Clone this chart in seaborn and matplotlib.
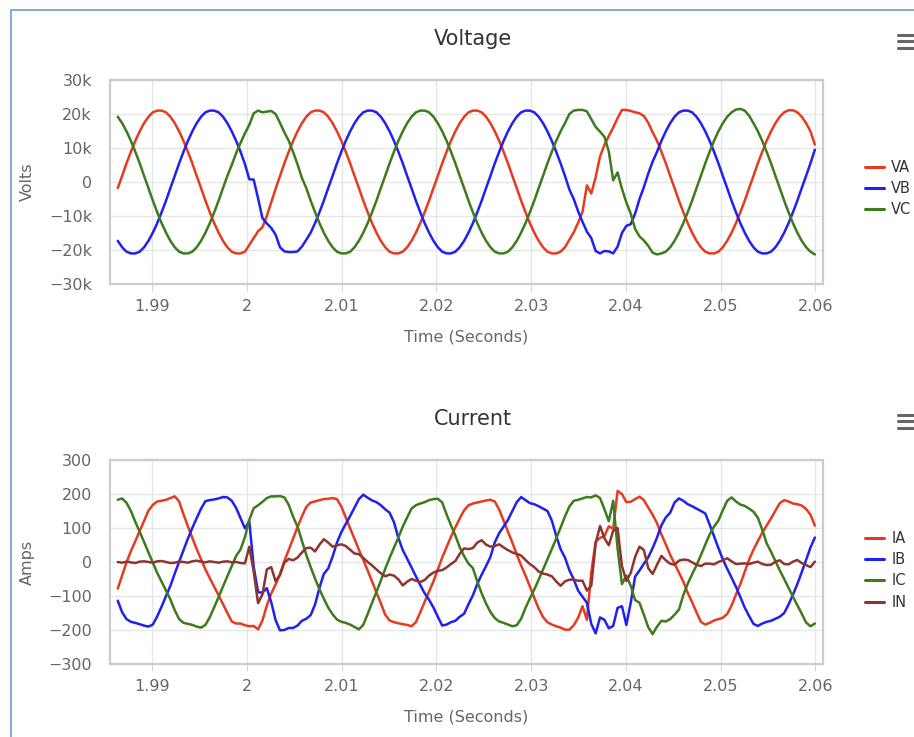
import numpy as np
import pandas as pd
import matplotlib
matplotlib.use("Agg")
import matplotlib.pyplot as plt
from matplotlib.lines import Line2D
import seaborn as sns

# ---------------- data ----------------
# recorder sampling grid
T_START = 1.98635
T_STEP = 1 / 2160

# phase voltages in kV
va_kv = [
    -1.8, 1.8, 5.5, 8.9, 12.1, 14.9, 17.3, 19.2, 20.5, 21.0,
    21.0, 20.5, 19.2, 17.3, 14.9, 12.1, 8.9, 5.5, 1.8, -1.8,
    -5.5, -8.9, -12.1, -14.9, -17.3, -19.2, -20.5, -21.0, -21.0, -20.5,
    -18.5, -16.5, -14.5, -13.3, -10.0, -6.0, -2.0, 1.8, 5.5, 8.9,
    12.1, 14.9, 17.3, 19.2, 20.5, 21.0, 21.0, 20.5, 19.2, 17.3,
    14.9, 12.1, 8.9, 5.5, 1.8, -1.8, -5.5, -8.9, -12.1, -14.9,
    -17.3, -19.2, -20.5, -21.0, -21.0, -20.5, -19.2, -17.3, -14.9, -12.1,
    -8.9, -5.5, -1.8, 1.8, 5.5, 8.9, 12.1, 14.9, 17.3, 19.2,
    20.5, 21.0, 21.0, 20.5, 19.2, 17.3, 14.9, 12.1, 8.9, 5.5,
    1.8, -1.8, -5.5, -8.9, -12.1, -14.9, -17.3, -19.2, -20.5, -21.0,
    -21.0, -20.5, -19.2, -17.0, -14.8, -12.0, -8.8, -1.0, -3.4, 1.4,
    7.5, 10.9, 13.5, 16.0, 18.8, 21.2, 21.2, 20.9, 20.5, 20.2,
    19.4, 17.4, 14.6, 12.1, 8.9, 5.5, 1.8, -1.8, -5.5, -8.9,
    -12.1, -14.9, -17.3, -19.2, -20.5, -21.0, -21.0, -20.5, -19.2, -17.3,
    -14.9, -12.1, -8.9, -5.5, -1.8, 1.8, 5.5, 8.9, 12.1, 14.9,
    17.3, 19.2, 20.5, 21.1, 21.1, 20.5, 19.2, 17.3, 14.9, 11.0,
]
vb_kv = [
    -17.3, -19.2, -20.5, -21.0, -21.0, -20.5, -19.2, -17.3, -14.9, -12.1,
    -8.9, -5.5, -1.8, 1.8, 5.5, 8.9, 12.1, 14.9, 17.3, 19.2,
    20.5, 21.0, 21.0, 20.5, 19.2, 17.3, 14.9, 12.1, 8.9, 5.3,
    0.8, 0.7, -4.8, -10.6, -12.2, -13.5, -15.5, -19.2, -20.4, -20.6,
    -20.6, -20.4, -19.0, -17.0, -14.9, -12.1, -8.9, -5.5, -1.8, 1.8,
    5.5, 8.9, 12.1, 14.9, 17.3, 19.2, 20.5, 21.0, 21.0, 20.5,
    19.2, 17.3, 14.9, 12.1, 8.9, 5.5, 1.8, -1.8, -5.5, -8.9,
    -12.1, -14.9, -17.3, -19.2, -20.5, -21.0, -21.0, -20.5, -19.2, -17.3,
    -14.9, -12.1, -8.9, -5.5, -1.8, 1.8, 5.5, 8.9, 12.1, 14.9,
    17.3, 19.2, 20.5, 21.0, 21.0, 20.5, 19.2, 17.3, 14.9, 12.1,
    8.9, 5.5, 1.8, -2.2, -5.0, -8.6, -11.7, -14.6, -16.5, -20.3,
    -21.0, -20.3, -20.4, -21.0, -19.0, -15.0, -12.9, -12.4, -9.3, -5.0,
    -1.5, 2.5, 6.0, 8.9, 12.1, 14.9, 17.3, 19.2, 20.5, 21.0,
    21.0, 20.5, 19.2, 17.3, 14.9, 12.1, 8.9, 5.5, 1.8, -1.8,
    -5.5, -8.9, -12.1, -14.9, -17.3, -19.2, -20.5, -21.0, -21.0, -20.5,
    -19.2, -17.3, -14.9, -12.1, -8.9, -5.5, -1.8, 1.8, 5.5, 9.5,
]
vc_kv = [
    19.2, 17.3, 14.9, 12.1, 8.9, 5.5, 1.8, -1.8, -5.5, -8.9,
    -12.1, -14.9, -17.3, -19.2, -20.5, -21.0, -21.0, -20.5, -19.2, -17.3,
    -14.9, -12.1, -8.9, -5.5, -1.8, 1.8, 5.0, 8.5, 11.5, 14.3,
    16.8, 20.2, 21.0, 20.5, 20.7, 20.9, 20.0, 17.4, 14.6, 12.1,
    8.8, 5.2, 1.2, -1.8, -5.5, -8.9, -12.1, -14.9, -17.3, -19.2,
    -20.5, -21.0, -21.0, -20.5, -19.2, -17.3, -14.9, -12.1, -8.9, -5.5,
    -1.8, 1.8, 5.5, 8.9, 12.1, 14.9, 17.3, 19.2, 20.5, 21.0,
    21.0, 20.5, 19.2, 17.3, 14.9, 12.1, 8.9, 5.5, 1.8, -1.8,
    -5.5, -8.9, -12.1, -14.9, -17.3, -19.2, -20.5, -21.0, -21.0, -20.5,
    -19.2, -17.3, -14.9, -12.1, -8.9, -5.5, -1.8, 1.8, 5.5, 8.9,
    12.1, 14.9, 17.3, 20.0, 21.0, 21.2, 21.2, 20.8, 18.5, 16.2,
    14.8, 13.3, 9.0, 0.5, 2.8, -2.0, -6.0, -9.3, -13.8, -16.0,
    -17.2, -18.8, -20.8, -21.3, -21.0, -20.5, -19.2, -17.3, -14.9, -12.1,
    -8.9, -5.5, -1.8, 1.8, 5.5, 8.9, 12.1, 14.9, 17.3, 19.2,
    20.5, 21.3, 21.5, 21.0, 19.5, 17.3, 14.9, 12.1, 8.9, 5.5,
    1.8, -1.8, -5.5, -8.9, -12.1, -14.9, -17.3, -19.2, -20.5, -21.3,
]

# phase and neutral currents in A
ia = [
    -78, -40, -1, 32, 61, 91, 121, 151, 168, 178,
    180, 183, 188, 193, 178, 140, 105, 71, 38, 8,
    -22, -48, -73, -98, -124, -150, -175, -181, -181, -186,
    -189, -188, -198, -172, -128, -93, -66, -36, 3, 36,
    69, 103, 134, 162, 175, 178, 182, 185, 186, 188,
    185, 163, 131, 99, 68, 36, 6, -25, -57, -90,
    -121, -155, -172, -177, -180, -183, -185, -189, -177, -148,
    -117, -87, -57, -22, 13, 44, 74, 102, 128, 152,
    167, 172, 175, 178, 181, 183, 178, 154, 122, 89,
    57, 22, -10, -40, -72, -105, -137, -162, -177, -184,
    -189, -193, -199, -199, -186, -164, -130, -170, -31, 60,
    71, 76, 105, 98, 209, 200, 176, 177, 185, 192,
    182, 160, 139, 114, 81, 52, 21, -5, -31, -58,
    -91, -118, -148, -176, -184, -179, -172, -168, -164, -153,
    -128, -96, -65, -29, 7, 36, 62, 86, 107, 128,
    151, 173, 182, 178, 172, 170, 166, 156, 139, 107,
]
ib = [
    -114, -148, -168, -176, -179, -183, -187, -190, -184, -160,
    -131, -100, -70, -34, 1, 35, 69, 100, 129, 157,
    179, 182, 184, 187, 191, 190, 180, 159, 129, 99,
    120, -14, -89, -90, -77, -118, -171, -201, -200, -194,
    -194, -187, -173, -167, -156, -125, -76, -35, -19, 16,
    57, 88, 112, 135, 160, 185, 198, 189, 181, 176,
    167, 155, 145, 117, 71, 35, 10, -16, -42, -68,
    -92, -111, -134, -161, -187, -184, -177, -173, -161, -152,
    -124, -98, -65, -37, -12, 15, 58, 85, 104, 124,
    150, 176, 191, 182, 173, 170, 164, 157, 150, 122,
    77, 38, 13, -24, -51, -84, -102, -120, -182, -210,
    -163, -170, -195, -188, -135, -130, -185, -120, -43, -25,
    -5, 14, 41, 72, 108, 131, 145, 175, 187, 180,
    170, 164, 157, 150, 143, 110, 76, 41, 8, -20,
    -46, -73, -103, -134, -159, -182, -188, -181, -176, -173,
    -167, -161, -150, -125, -96, -65, -30, 6, 43, 72,
]
ic = [
    183, 187, 174, 150, 118, 89, 59, 28, -2, -32,
    -58, -84, -110, -142, -168, -179, -182, -185, -190, -193,
    -185, -162, -133, -103, -72, -42, -12, 18, 37, 73,
    124, 158, 167, 177, 188, 193, 193, 194, 190, 168,
    133, 104, 62, 21, -15, -49, -80, -108, -134, -154,
    -169, -176, -179, -184, -191, -198, -185, -153, -120, -88,
    -55, -20, 12, 42, 72, 104, 131, 157, 167, 172,
    176, 182, 185, 186, 175, 140, 108, 78, 43, 17,
    -5, -18, -57, -92, -122, -147, -165, -175, -179, -184,
    -189, -186, -167, -135, -107, -81, -52, -22, 8, 38,
    69, 101, 134, 163, 180, 183, 187, 191, 190, 196,
    188, 155, 120, 180, 40, -65, -40, -70, -112, -120,
    -155, -192, -212, -190, -173, -175, -168, -155, -140, -97,
    -64, -36, -10, 20, 51, 81, 104, 122, 152, 180,
    190, 178, 169, 165, 157, 148, 130, 95, 55, 30,
    3, -25, -50, -76, -102, -127, -152, -178, -189, -181,
]
i_n = [
    0, -2, 1, -1, -3, 1, 2, 0, -2, 2,
    3, 0, -3, -2, 1, 0, -2, 2, 4, 1,
    -1, 2, 0, -2, 1, 2, -1, 0, -3, -4,
    45, -28, -121, -95, -22, -15, -57, -38, -2, 9,
    5, 13, 28, 41, 42, 31, 51, 67, 57, 45,
    49, 52, 47, 36, 25, 23, 12, 0, -10, -22,
    -33, -42, -37, -40, -51, -69, -58, -50, -55, -59,
    -53, -40, -31, -26, -24, -16, -6, 3, 24, 40,
    38, 41, 57, 64, 51, 45, 47, 52, 43, 35,
    28, 24, 19, 6, -6, -15, -28, -34, -37, -42,
    -57, -70, -57, -52, -52, -55, -55, -84, -70, 55,
    106, 70, 49, 92, 100, -12, -56, -32, 15, 45,
    35, -18, -35, -8, 18, 5, -5, -8, 4, 7,
    6, -1, -8, -12, -5, -5, -7, 0, 5, 11,
    2, -6, -5, -4, -6, -2, 1, -6, -9, -8,
    1, 5, -6, -7, 1, 6, -3, -9, -15, 1,
]

voltage_names = ["VA", "VB", "VC"]
current_names = ["IA", "IB", "IC", "IN"]

x_ticks = [1.99, 2.00, 2.01, 2.02, 2.03, 2.04, 2.05, 2.06]
x_tick_labels = ["1.99", "2", "2.01", "2.02", "2.03", "2.04", "2.05", "2.06"]
v_ticks = [-30000, -20000, -10000, 0, 10000, 20000, 30000]
v_tick_labels = ["\u221230k", "\u221220k", "\u221210k", "0", "10k", "20k", "30k"]
i_ticks = [-300, -200, -100, 0, 100, 200, 300]
i_tick_labels = ["\u2212300", "\u2212200", "\u2212100", "0", "100", "200", "300"]

# ---------------- styling ----------------
COL = {"VA": "#e63b1f", "VB": "#2020f0", "VC": "#3e7b1d",
       "IA": "#e63b1f", "IB": "#2020f0", "IC": "#3e7b1d", "IN": "#8e3530"}

series_v = [va_kv, vb_kv, vc_kv]
series_i = [ia, ib, ic, i_n]
n = len(va_kv)
for s in series_v + series_i:
    assert len(s) == n, len(s)

t = T_START + T_STEP * np.arange(n)

volt_df = pd.DataFrame({
    "Time": np.tile(t, 3),
    "Volts": np.concatenate([np.asarray(s, float) * 1000 for s in series_v]),
    "Series": np.repeat(voltage_names, n),
})
amp_df = pd.DataFrame({
    "Time": np.tile(t, 4),
    "Amps": np.concatenate([np.asarray(s, float) for s in series_i]),
    "Series": np.repeat(current_names, n),
})

sns.set_theme(style="white")
plt.rcParams["font.family"] = ["DejaVu Sans"]

W, H = 914, 737
fig = plt.figure(figsize=(W / 100, H / 100), dpi=100)
fig.patch.set_facecolor("white")

ax1 = fig.add_axes([110 / W, 1 - 284 / H, 713 / W, 204 / H])
ax2 = fig.add_axes([110 / W, 1 - 664 / H, 713 / W, 204 / H])

sns.lineplot(data=volt_df, x="Time", y="Volts", hue="Series", hue_order=voltage_names,
             palette=COL, linewidth=1.8, estimator=None, ax=ax1)
sns.lineplot(data=amp_df, x="Time", y="Amps", hue="Series", hue_order=current_names,
             palette=COL, linewidth=1.8, estimator=None, ax=ax2)


def style_axis(ax, yticks, ylabels, ylab, ylim, legend_center_y):
    ax.set_xlim(1.98553, 2.06082)
    ax.set_ylim(*ylim)
    ax.set_xticks(x_ticks)
    ax.set_xticklabels(x_tick_labels)
    ax.set_yticks(yticks)
    ax.set_yticklabels(ylabels)
    ax.set_axisbelow(True)
    ax.grid(axis="y", color="#e6e6e6", linewidth=1.0)
    ax.grid(axis="x", color="#e2e6ef", linewidth=1.0)
    for sp in ax.spines.values():
        sp.set_visible(True)
        sp.set_color("#cccccc")
        sp.set_linewidth(1.6)
    ax.tick_params(axis="x", length=5, width=0.8, color="#ccd6eb", direction="out",
                   pad=5.5, labelsize=11.5, labelcolor="#666666", bottom=True)
    ax.tick_params(axis="y", length=0, pad=13, labelsize=11.5, labelcolor="#666666")
    ax.set_xlabel("Time (Seconds)", fontsize=11.5, color="#666666", va="center")
    ax.xaxis.set_label_coords(0.5, -0.262)
    ax.set_ylabel(ylab, fontsize=11.5, color="#666666", va="center")
    ax.yaxis.set_label_coords(-83 / 713, 0.5)
    handles, labels = ax.get_legend_handles_labels()
    leg = ax.legend(handles, labels, loc="center left",
                    bbox_to_anchor=(865 / W, 1 - legend_center_y / H),
                    bbox_transform=fig.transFigure, frameon=False, fontsize=10.5,
                    handlelength=1.3, handletextpad=0.5, labelspacing=0.43,
                    borderpad=0, borderaxespad=0, labelcolor="#333333")
    for h in leg.legend_handles:
        h.set_linewidth(2.2)


style_axis(ax1, v_ticks, v_tick_labels, "Volts", (-30000, 30000), 188.5)
style_axis(ax2, i_ticks, i_tick_labels, "Amps", (-300, 300), 570.3)

# chart titles
fig.text(473 / W, 1 - 45 / H, "Voltage", ha="center", va="baseline",
         fontsize=15, color="#333333")
fig.text(473 / W, 1 - 425 / H, "Current", ha="center", va="baseline",
         fontsize=15, color="#333333")

# container frame (left and top edges)
fig.add_artist(Line2D([10.5 / W, 10.5 / W], [0, 1 - 9.5 / H], transform=fig.transFigure,
                      color="#6a9fd6", linewidth=1.2))
fig.add_artist(Line2D([10.5 / W, 1], [1 - 9.5 / H, 1 - 9.5 / H], transform=fig.transFigure,
                      color="#6a9fd6", linewidth=1.2))

# export-menu glyphs
for y0 in (34.5, 414.5):
    for dy in (0, 6.7, 13.4):
        fig.add_artist(Line2D([898 / W, 914 / W], [1 - (y0 + dy) / H] * 2,
                              transform=fig.transFigure, color="#666666",
                              linewidth=2.2, solid_capstyle="round"))

fig.savefig("out.png", dpi=100, facecolor="white")
